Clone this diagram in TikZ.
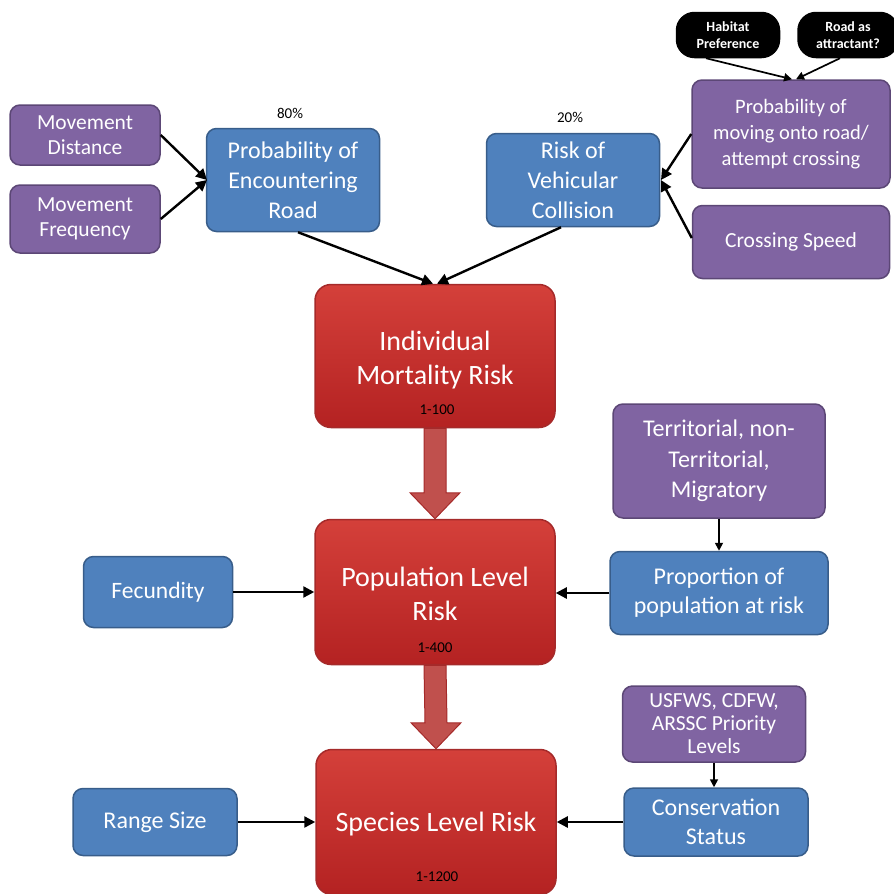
\documentclass[tikz,border=0pt]{standalone}
\usepackage{fontspec}
\setmainfont{Carlito}
\usetikzlibrary{calc,arrows.meta}
\definecolor{purp}{HTML}{8064A2}
\definecolor{purpd}{HTML}{5C4776}
\definecolor{blu}{HTML}{4F81BD}
\definecolor{blud}{HTML}{385D8A}
\definecolor{redt}{HTML}{D4403A}
\definecolor{redb}{HTML}{B42222}
\definecolor{redd}{HTML}{A52A2A}
\definecolor{arrowred}{HTML}{C0504D}
\tikzset{
  box/.style={rounded corners=10pt, line width=1.5pt, text=white, align=center, inner sep=0pt},
  purpbox/.style={box, fill=purp, draw=purpd, font=\fontsize{21.5}{25}\selectfont},
  bluebox/.style={box, fill=blu, draw=blud, font=\fontsize{24}{30}\selectfont},
  redbox/.style={box, top color=redt, bottom color=redb, draw=redd, rounded corners=16pt, font=\fontsize{28}{34}\selectfont, minimum width=240pt},
  blackbox/.style={box, fill=black, draw=black, rounded corners=18pt, font=\bfseries\fontsize{14}{17}\selectfont},
  small/.style={font=\fontsize{15}{17}\selectfont, inner sep=0pt},
  conn/.style={line width=2.4pt, -{Triangle[length=11pt,width=11pt]}},
  thin/.style={line width=1.7pt, -{Triangle[length=8pt,width=8pt]}},
  fat/.style={fill=arrowred, draw=redd, line width=1pt},
}
\begin{document}
\begin{tikzpicture}[x=1pt,y=-1pt]
\useasboundingbox (0,0) rectangle (894,894);
% purple left
\node[purpbox, minimum width=150pt, minimum height=60pt] (md) at (85,135) {Movement\\Distance};
\node[purpbox, minimum width=150pt, minimum height=68pt] (mf) at (85,219) {Movement\\Frequency};
% blue top
\node[bluebox, minimum width=173pt, minimum height=103pt] (per) at (293,180) {Probability of\\Encountering\\Road};
\node[small] (p80) at (290,113) {80\%};
\node[bluebox, minimum width=173pt, minimum height=93pt] (rvc) at (573,180) {Risk of\\Vehicular\\Collision};
\node[small] (p20) at (570,117) {20\%};
% black
\node[blackbox, minimum width=103pt, minimum height=45pt] (hp) at (728,35) {Habitat\\Preference};
\node[blackbox, minimum width=100pt, minimum height=45pt] (ra) at (848,35) {Road as\\attractant?};
% purple right
\node[purpbox, minimum width=198pt, minimum height=108pt, font=\fontsize{20.5}{26}\selectfont] (pm) at (791,134) {Probability of\\moving onto road/\\attempt crossing};
\node[purpbox, minimum width=197pt, minimum height=73pt] (cs) at (791,242) {Crossing Speed};
% red
\node[redbox, minimum height=143pt] (imr) at (435,356) {};
\node[font=\fontsize{28}{34}\selectfont, text=white, align=center, inner sep=0pt] (imrt) at (435,360) {Individual\\Mortality Risk};
\node[small] (l100) at (437,410) {1-100};
\node[redbox, minimum height=145pt] (plr) at (435,592) {};
\node[font=\fontsize{28}{34}\selectfont, text=white, align=center, inner sep=0pt] (plrt) at (435,594) {Population Level\\Risk};
\node[small] (l400) at (435,648) {1-400};
\node[redbox, minimum height=145pt] (slr) at (436,822) {};
\node[font=\fontsize{28}{34}\selectfont, text=white, inner sep=0pt] (slrt) at (436,824) {Species Level Risk};
\node[small] (l1200) at (437,877) {1-1200};
% others
\node[purpbox, minimum width=212pt, minimum height=114pt, font=\fontsize{24}{30.5}\selectfont] (tnm) at (719,461) {Territorial, non-\\Territorial,\\Migratory};
\node[bluebox, minimum width=149pt, minimum height=71pt, font=\fontsize{23.5}{28}\selectfont] (fec) at (158,592) {Fecundity};
\node[bluebox, minimum width=218pt, minimum height=83pt, font=\fontsize{24}{29}\selectfont] (ppr) at (719,593) {Proportion of\\population at risk};
\node[purpbox, minimum width=183pt, minimum height=76pt, font=\fontsize{21.5}{23}\selectfont] (usf) at (714,724) {USFWS, CDFW,\\ARSSC Priority\\Levels};
\node[bluebox, minimum width=184pt, minimum height=68pt, font=\fontsize{24}{29}\selectfont] (cst) at (716,822) {Conservation\\Status};
\node[bluebox, minimum width=164pt, minimum height=67pt] (rs) at (155,822) {Range Size};
% connectors
\coordinate (perin) at (207,180);
\coordinate (rvcin) at (661,180);
\draw[conn] (md.east) -- (perin);
\draw[conn] (mf.east) -- (perin);
\draw[conn] (pm.west) -- (rvcin);
\draw[conn] ($(cs.west)+(0,-4)$) -- (rvcin);
\draw[conn] ($(per.south)+(5,0)$) -- ($(imr.north)+(-2,0)$);
\draw[conn] ($(rvc.south)+(-12,0)$) -- ($(imr.north)+(2,0)$);
\draw[thin] ($(hp.south)+(-22,0)$) -- ($(pm.north)+(1,0)$);
\draw[thin] ($(ra.south)+(-8,0)$) -- ($(pm.north)+(5,0)$);
\draw[conn] (fec.east) -- (fec.east -| plr.west);
\draw[conn] (ppr.west) -- (ppr.west -| plr.east);
\draw[conn] (rs.east) -- (rs.east -| slr.west);
\draw[conn] (cst.west) -- (cst.west -| slr.east);
\draw[thin] (tnm.south) -- (tnm.south |- ppr.north);
\draw[thin] (usf.south) -- (usf.south |- cst.north);
% fat arrows
\draw[fat] ($(imr.south)+(-11,0)$) -- ($(plr.north)+(-11,-26)$) -- ($(plr.north)+(-25,-26)$) -- (plr.north) -- ($(plr.north)+(25,-26)$) -- ($(plr.north)+(11,-26)$) -- ($(imr.south)+(11,0)$) -- cycle;
\draw[fat] ($(plr.south)+(-11,0)$) -- ($(slr.north)+(-11,-26)$) -- ($(slr.north)+(-25,-26)$) -- (slr.north) -- ($(slr.north)+(25,-26)$) -- ($(slr.north)+(11,-26)$) -- ($(plr.south)+(11,0)$) -- cycle;
\end{tikzpicture}
\end{document}
